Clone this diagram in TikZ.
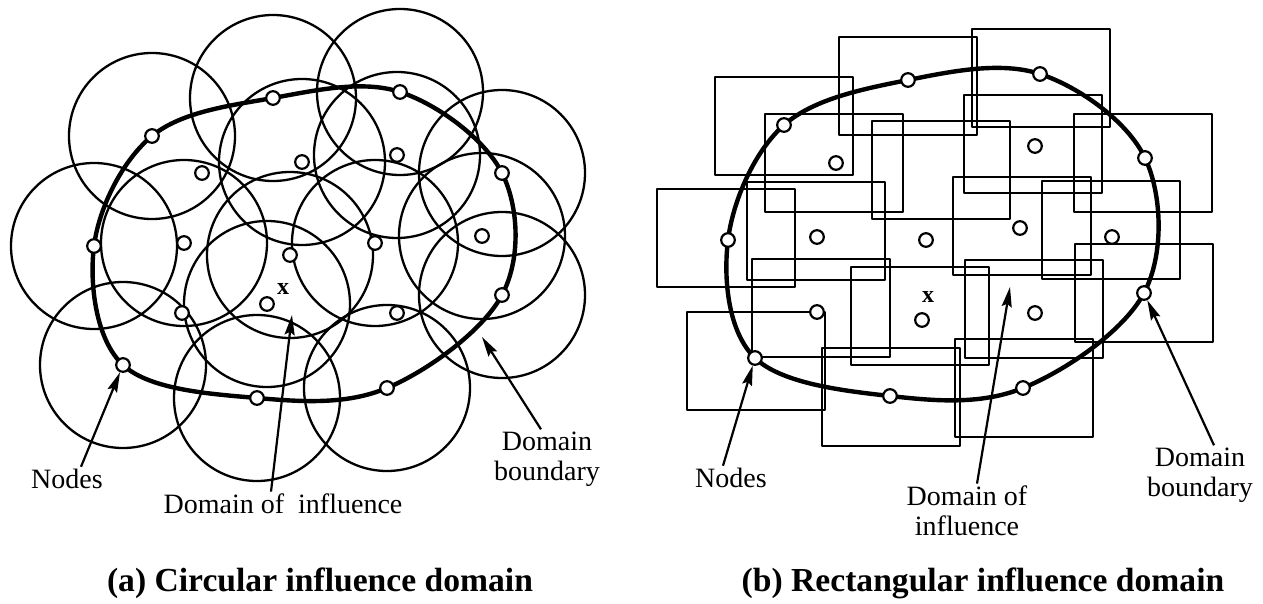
\documentclass[tikz,border=0pt]{standalone}
\usepackage{fontspec}
\setmainfont{Liberation Serif}
\usetikzlibrary{arrows.meta}

\tikzset{
  infl/.style={line width=1.15pt},
  rbox/.style={line width=1.35pt,line join=round},
  bdry/.style={line width=2.2pt},
  pnode/.style={circle,draw,fill=white,line width=1.1pt,inner sep=0pt,minimum size=6.8pt},
  lbl/.style={font=\fontsize{14}{15}\selectfont,align=center,inner sep=1pt},
  capt/.style={font=\bfseries\fontsize{16.8}{18}\selectfont,inner sep=1pt},
  ptr/.style={line width=1.1pt,-{Stealth[length=10pt,width=5pt,inset=1.5pt]}}
}

\begin{document}
\begin{tikzpicture}[x=0.5pt,y=-0.5pt]
\useasboundingbox (0,0) rectangle (1263,604);

\foreach \x/\y in {152/136,273/98,400/92,502/173,502/295,387/388,257/398,123/365,94/246,
                   302/162,397/155,184/243,290/255,375/243,482/236,267/304}
{\draw[infl] (\x,\y) circle[radius=41.5pt];}
\draw[bdry] plot[smooth cycle,tension=0.6] coordinates {(152,136) (273,98) (400,92) (502,173)
  (502,295) (387,388) (257,398) (123,365) (94,246)};
\foreach \n/\x/\y in {a1/152/136,a2/273/98,a3/400/92,a4/502/173,a5/502/295,a6/387/388,
                      a7/257/398,a8/123/365,a9/94/246,a10/202/173,a11/302/162,a12/397/155,
                      a13/184/243,a14/290/255,a15/375/243,a16/482/236,a17/267/304,a18/182/313,
                      a19/397/313}
{\node[pnode] (\n) at (\x,\y) {};}
\node[font=\bfseries\fontsize{12}{12}\selectfont] (xa) at (283,289) {x};
\coordinate (doia) at (292,315);
\coordinate (bnda) at (482,337);

\node[lbl] (nodesa) at (67,479) {Nodes};
\node[lbl] (infla) at (283,504) {Domain of \ influence};
\node[lbl] (bndlbla) at (547,459) {Domain\\boundary};
\draw[ptr] ([xshift=7pt]nodesa.north) -- (a8);
\draw[ptr] ([xshift=-6pt]infla.north) -- (doia);
\draw[ptr] ([xshift=-3pt]bndlbla.north) -- (bnda);
\node[capt] (capa) at (320,583) {(a) Circular influence domain};

\foreach \x/\y in {908/86,1041/78,784/126,834/163,726/238,816/231,941/170,1022/226,1033/144,
                   1143/163,1111/230,1034/309,1144/293,1024/388,920/316,756/361,891/397,821/308}
{\draw[rbox] (\x-69,\y-49) rectangle (\x+69,\y+49);}
\draw[bdry] plot[smooth cycle,tension=0.6] coordinates {(784,125) (908,80) (1040,74) (1145,158)
  (1144,293) (1023,388) (890,396) (755,358) (728,240)};
\foreach \n/\x/\y in {b1/784/125,b2/908/80,b3/1040/74,b4/1145/158,b5/1144/293,b6/1023/388,
                      b7/890/396,b8/755/358,b9/728/240,b10/836/163,b11/1035/146,b12/817/237,
                      b13/926/240,b14/1020/228,b15/1112/237,b16/817/312,b17/922/320,b18/1035/313}
{\node[pnode] (\n) at (\x,\y) {};}
\node[font=\bfseries\fontsize{12}{12}\selectfont] (xb) at (928,297) {x};
\coordinate (doib) at (1010,287);

\node[lbl] (nodesb) at (731,478) {Nodes};
\node[lbl] (inflb) at (967,511) {Domain of\\influence};
\node[lbl] (bndlblb) at (1200,475) {Domain\\boundary};
\draw[ptr] ([xshift=-4pt]nodesb.north) -- (b8);
\draw[ptr] ([xshift=5pt]inflb.north) -- (doib);
\draw[ptr] ([xshift=7pt]bndlblb.north) -- (b5);
\node[capt] (capb) at (983,583) {(b) Rectangular influence domain};

\end{tikzpicture}
\end{document}
